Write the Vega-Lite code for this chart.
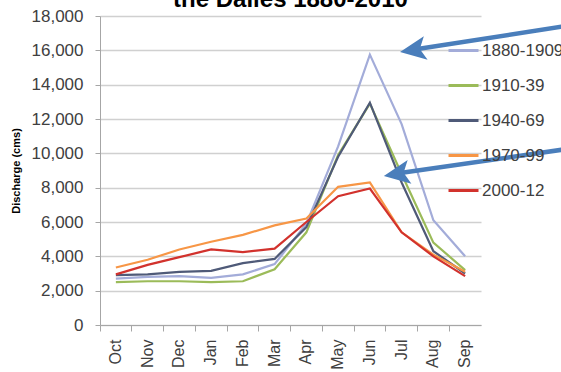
{
  "$schema": "https://vega.github.io/schema/vega-lite/v6.json",
  "width": 381,
  "height": 309,
  "autosize": {"type": "none"},
  "padding": {"left": 100, "top": 16, "right": 80, "bottom": 47},
  "background": "white",
  "config": {
    "font": "Liberation Sans",
    "view": {"stroke": null},
    "axis": {"labelColor": "#404040", "domainColor": "#a6a6a6", "tickColor": "#a6a6a6", "gridColor": "#d0d0d0", "gridWidth": 1.3}
  },
  "title": {
    "text": "the Dalles 1880-2010",
    "fontSize": 24,
    "fontWeight": "bold",
    "color": "#000000",
    "anchor": "middle",
    "offset": -24,
    "baseline": "alphabetic"
  },
  "datasets": {
    "flow": [
      {"month": "Oct", "period": "1880-1909", "cms": 2700},
      {"month": "Nov", "period": "1880-1909", "cms": 2800},
      {"month": "Dec", "period": "1880-1909", "cms": 2850},
      {"month": "Jan", "period": "1880-1909", "cms": 2750},
      {"month": "Feb", "period": "1880-1909", "cms": 2950},
      {"month": "Mar", "period": "1880-1909", "cms": 3550},
      {"month": "Apr", "period": "1880-1909", "cms": 5900},
      {"month": "May", "period": "1880-1909", "cms": 10400},
      {"month": "Jun", "period": "1880-1909", "cms": 15750},
      {"month": "Jul", "period": "1880-1909", "cms": 11700},
      {"month": "Aug", "period": "1880-1909", "cms": 6100},
      {"month": "Sep", "period": "1880-1909", "cms": 4000},
      {"month": "Oct", "period": "1910-39", "cms": 2500},
      {"month": "Nov", "period": "1910-39", "cms": 2550},
      {"month": "Dec", "period": "1910-39", "cms": 2550},
      {"month": "Jan", "period": "1910-39", "cms": 2500},
      {"month": "Feb", "period": "1910-39", "cms": 2550},
      {"month": "Mar", "period": "1910-39", "cms": 3250},
      {"month": "Apr", "period": "1910-39", "cms": 5400},
      {"month": "May", "period": "1910-39", "cms": 9900},
      {"month": "Jun", "period": "1910-39", "cms": 12900},
      {"month": "Jul", "period": "1910-39", "cms": 8800},
      {"month": "Aug", "period": "1910-39", "cms": 4800},
      {"month": "Sep", "period": "1910-39", "cms": 3200},
      {"month": "Oct", "period": "1940-69", "cms": 2900},
      {"month": "Nov", "period": "1940-69", "cms": 2950},
      {"month": "Dec", "period": "1940-69", "cms": 3100},
      {"month": "Jan", "period": "1940-69", "cms": 3150},
      {"month": "Feb", "period": "1940-69", "cms": 3600},
      {"month": "Mar", "period": "1940-69", "cms": 3850},
      {"month": "Apr", "period": "1940-69", "cms": 5700},
      {"month": "May", "period": "1940-69", "cms": 9800},
      {"month": "Jun", "period": "1940-69", "cms": 12950},
      {"month": "Jul", "period": "1940-69", "cms": 8300},
      {"month": "Aug", "period": "1940-69", "cms": 4300},
      {"month": "Sep", "period": "1940-69", "cms": 3000},
      {"month": "Oct", "period": "1970-99", "cms": 3350},
      {"month": "Nov", "period": "1970-99", "cms": 3800},
      {"month": "Dec", "period": "1970-99", "cms": 4400},
      {"month": "Jan", "period": "1970-99", "cms": 4850},
      {"month": "Feb", "period": "1970-99", "cms": 5250},
      {"month": "Mar", "period": "1970-99", "cms": 5800},
      {"month": "Apr", "period": "1970-99", "cms": 6200},
      {"month": "May", "period": "1970-99", "cms": 8050},
      {"month": "Jun", "period": "1970-99", "cms": 8300},
      {"month": "Jul", "period": "1970-99", "cms": 5400},
      {"month": "Aug", "period": "1970-99", "cms": 4100},
      {"month": "Sep", "period": "1970-99", "cms": 3100},
      {"month": "Oct", "period": "2000-12", "cms": 2950},
      {"month": "Nov", "period": "2000-12", "cms": 3500},
      {"month": "Dec", "period": "2000-12", "cms": 3950},
      {"month": "Jan", "period": "2000-12", "cms": 4400},
      {"month": "Feb", "period": "2000-12", "cms": 4250},
      {"month": "Mar", "period": "2000-12", "cms": 4450},
      {"month": "Apr", "period": "2000-12", "cms": 6000},
      {"month": "May", "period": "2000-12", "cms": 7500},
      {"month": "Jun", "period": "2000-12", "cms": 7950},
      {"month": "Jul", "period": "2000-12", "cms": 5400},
      {"month": "Aug", "period": "2000-12", "cms": 4000},
      {"month": "Sep", "period": "2000-12", "cms": 2850}
    ],
    "arrows": [
      {"arrow": "upper", "tipX": 9.45, "tipY": 15900, "baseX": 9.9, "baseY": 16050, "tailX": 14.7, "tailY": 17420},
      {"arrow": "lower", "tipX": 8.94, "tipY": 8680, "baseX": 9.4, "baseY": 8840, "tailX": 14.7, "tailY": 10250}
    ]
  },
  "layer": [
    {
      "data": {"name": "flow"},
      "mark": {"type": "line", "strokeWidth": 2.2},
      "encoding": {
        "x": {
          "field": "month",
          "type": "ordinal",
          "sort": ["Oct", "Nov", "Dec", "Jan", "Feb", "Mar", "Apr", "May", "Jun", "Jul", "Aug", "Sep"],
          "scale": {"type": "band", "paddingInner": 0, "paddingOuter": 0},
          "axis": {
            "title": null,
            "labelAngle": -90,
            "labelFontSize": 16,
            "labelPadding": 8,
            "tickSize": 6,
            "bandPosition": 0,
            "grid": false
          }
        },
        "y": {
          "field": "cms",
          "type": "quantitative",
          "scale": {"domain": [0, 18000]},
          "axis": {
            "title": "Discharge (cms)",
            "titleFontSize": 11,
            "titleFontWeight": "bold",
            "titleColor": "#000000",
            "titlePadding": 10,
            "values": [0, 2000, 4000, 6000, 8000, 10000, 12000, 14000, 16000, 18000],
            "format": ",.0f",
            "labelFontSize": 17,
            "labelPadding": 12,
            "tickSize": 5
          }
        },
        "color": {
          "field": "period",
          "type": "nominal",
          "scale": {
            "domain": ["1880-1909", "1910-39", "1940-69", "1970-99", "2000-12"],
            "range": ["#a3acd9", "#9bbb59", "#4f5a78", "#f79646", "#d2322d"]
          },
          "legend": {
            "title": null,
            "orient": "none",
            "legendX": 340,
            "legendY": 11,
            "padding": 7,
            "symbolType": "stroke",
            "symbolSize": 900,
            "symbolStrokeWidth": 3,
            "labelFontSize": 17,
            "labelColor": "#404040",
            "labelOffset": 2,
            "rowPadding": 10
          }
        }
      }
    },
    {
      "data": {"name": "arrows"},
      "mark": {"type": "rule", "color": "#4a7ebb", "strokeWidth": 4.5},
      "encoding": {
        "x": {"field": "baseX", "type": "quantitative", "scale": {"domain": [0, 12]}, "axis": null},
        "x2": {"field": "tailX"},
        "y": {
          "field": "baseY",
          "type": "quantitative",
          "axis": {
            "title": "Discharge (cms)",
            "titleFontSize": 11,
            "titleFontWeight": "bold",
            "titleColor": "#000000",
            "titlePadding": 10,
            "values": [0, 2000, 4000, 6000, 8000, 10000, 12000, 14000, 16000, 18000],
            "format": ",.0f",
            "labelFontSize": 17,
            "labelPadding": 12,
            "tickSize": 5
          }
        },
        "y2": {"field": "tailY"}
      }
    },
    {
      "data": {"name": "arrows"},
      "mark": {
        "type": "point",
        "shape": "M0,0 L2.6,-1.2 L2.0,0 L2.6,1.2 Z",
        "size": 400,
        "filled": true,
        "opacity": 1,
        "color": "#4a7ebb",
        "angle": -9
      },
      "encoding": {
        "x": {"field": "tipX", "type": "quantitative", "scale": {"domain": [0, 12]}, "axis": null},
        "y": {
          "field": "tipY",
          "type": "quantitative",
          "axis": {
            "title": "Discharge (cms)",
            "titleFontSize": 11,
            "titleFontWeight": "bold",
            "titleColor": "#000000",
            "titlePadding": 10,
            "values": [0, 2000, 4000, 6000, 8000, 10000, 12000, 14000, 16000, 18000],
            "format": ",.0f",
            "labelFontSize": 17,
            "labelPadding": 12,
            "tickSize": 5
          }
        }
      }
    }
  ],
  "resolve": {"scale": {"x": "independent"}}
}
